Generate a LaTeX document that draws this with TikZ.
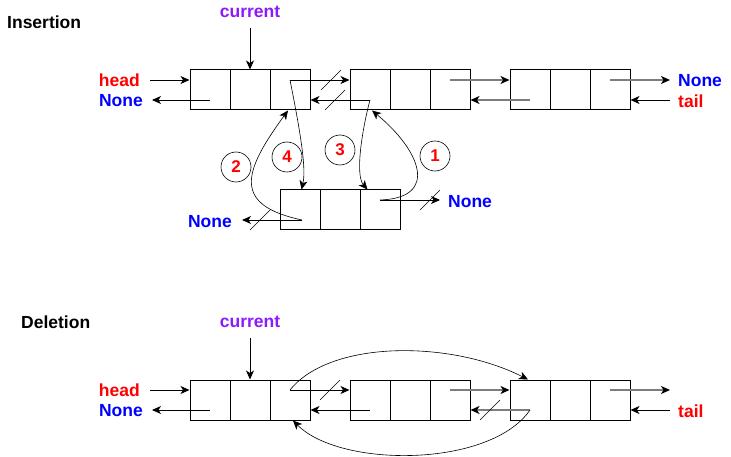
\documentclass[tikz,border=0pt]{standalone}
\usepackage{fontspec}
\setmainfont{Liberation Sans}
\usetikzlibrary{arrows.meta,calc}
\definecolor{ptrred}{RGB}{255,0,0}
\definecolor{ptrblue}{RGB}{0,0,255}
\definecolor{curviolet}{RGB}{140,26,255}
\definecolor{linkgray}{RGB}{125,125,125}

% named points inside a three-cell list node
\newcommand\cellpts[1]{%
  \coordinate (#1-nx)  at ($(#1.center)+(40,-10)$);
  \coordinate (#1-pv)  at ($(#1.center)+(-40,10)$);
  \coordinate (#1-in)  at ($(#1.west)+(0,-10)$);
  \coordinate (#1-out) at ($(#1.east)+(0,10)$);}

\begin{document}
\begin{tikzpicture}[x=1pt,y=-1pt,
  >={Stealth[length=9pt,width=8pt,inset=2.5pt]},
  ptr/.style={->, line width=0.9pt},
  gptr/.style={-{Stealth[length=9pt,width=8pt,inset=2.5pt,black]}, line width=1.5pt, draw=linkgray},
  link/.style={->, line width=0.6pt},
  cut/.style={line width=0.6pt},
  lbl/.style={font=\fontsize{17.5}{20}\selectfont\bfseries, inner sep=0pt},
  stepnum/.style={draw, circle, minimum size=30pt, inner sep=0pt, line width=0.6pt,
    text=ptrred, font=\fontsize{17}{20}\selectfont\bfseries},
  listnode/.style={draw, line width=1pt, minimum width=120pt, minimum height=40pt,
    inner sep=0pt, path picture={
      \foreach \f in {1,2}{
        \draw[line width=1pt]
          ($(path picture bounding box.north west)!\f/3!(path picture bounding box.north east)$) --
          ($(path picture bounding box.south west)!\f/3!(path picture bounding box.south east)$);}}}
]
\useasboundingbox (0,0) rectangle (731,457);

% ---------------- Insertion ----------------
\node[lbl, anchor=west] (ins) at (7,22) {Insertion};

\node[listnode] (A1) at (250,90) {};
\node[listnode] (B1) at (410,90) {};
\node[listnode] (C1) at (570,90) {};
\node[listnode] (D1) at (340,210) {};
\cellpts{A1}\cellpts{B1}\cellpts{C1}\cellpts{D1}

\node[lbl, text=curviolet] (cur1) at (250,12) {current};
\draw[ptr] (cur1.south) ++(0,10) coordinate (cur1s) -- (A1.north);

\node[lbl, text=ptrred, anchor=east] (hd1) at (140,80) {head};
\node[lbl, text=ptrblue, anchor=east] (nl1) at (143,101) {None};
\node[lbl, text=ptrblue, anchor=west] (nr1) at (678,81) {None};
\node[lbl, text=ptrred, anchor=west] (tl1) at (678,101) {tail};
\node[lbl, text=ptrblue, anchor=east] (nd1) at (232,222) {None};
\node[lbl, text=ptrblue, anchor=west] (ne1) at (448,202) {None};

\draw[ptr] ([xshift=10pt]hd1.east) -- (A1.west |- hd1.east);
\draw[ptr] (A1-pv) -- ([xshift=9pt]nl1.east |- A1-pv);
\draw[ptr] (A1-nx) -- (B1-in);
\draw[ptr] (B1-pv) -- (A1-out);
\draw[gptr] (B1-nx) -- (C1-in);
\draw[gptr] (C1-pv) -- (B1-out);
\draw[gptr] (C1-nx) -- ([xshift=-8pt]nr1.west |- C1-nx);
\draw[ptr] ([xshift=-8pt]tl1.west |- C1-out) -- (C1-out);

% cut links
\draw[cut] (321,90) -- (341,70);
\draw[cut] (325,110) -- (345,90);

% new node pointers
\coordinate (D1-pvs) at ($(D1.center)+(-38,10)$);
\coordinate (D1-nxs) at ($(D1.center)+(40,-10)$);
\draw[ptr] (D1-pvs) -- ([xshift=10pt]nd1.east |- D1-pvs);
\draw[ptr] (D1-nxs) -- ([xshift=-8pt]ne1.west |- D1-nxs);
\draw[cut] (250,230) -- (270,210);
\draw[cut] (420,210) -- (440,190);

% relinking steps
\coordinate (A1-bot) at ($(A1.south)+(38,0)$);
\coordinate (B1-bot) at ($(B1.south)+(-38,0)$);
\coordinate (D1-topl) at ($(D1.north west)+(22,0)$);
\coordinate (D1-topr) at ($(D1.north west)+(88,0)$);
\draw[link] (D1-nxs) .. controls (440,198) and (420,150) .. (B1-bot);
\draw[link] (D1-pvs) .. controls (232,205) and (243,172) .. (A1-bot);
\draw[link] (B1-pv) .. controls (362,130) and (355,175) .. (D1-topr);
\draw[link] (A1-nx) .. controls (302,140) and (306,170) .. (D1-topl);

\node[stepnum] (s1) at (435,156) {1};
\node[stepnum] (s2) at (236,167) {2};
\node[stepnum] (s3) at (340,150) {3};
\node[stepnum] (s4) at (287,157) {4};

% ---------------- Deletion ----------------
\node[lbl, anchor=west] (del) at (21,322) {Deletion};

\node[listnode] (A2) at (250,400) {};
\node[listnode] (B2) at (410,400) {};
\node[listnode] (C2) at (570,400) {};
\cellpts{A2}\cellpts{B2}\cellpts{C2}

\node[lbl, text=curviolet] (cur2) at (250,322) {current};
\draw[ptr] (cur2.south) ++(0,10) coordinate (cur2s) -- (A2.north);

\node[lbl, text=ptrred, anchor=east] (hd2) at (140,390) {head};
\node[lbl, text=ptrblue, anchor=east] (nl2) at (143,411) {None};
\node[lbl, text=ptrred, anchor=west] (tl2) at (678,411) {tail};
\coordinate (ne2) at (670,390);

\draw[ptr] ([xshift=10pt]hd2.east) -- (A2.west |- hd2.east);
\draw[ptr] (A2-pv) -- ([xshift=9pt]nl2.east |- A2-pv);
\draw[ptr] (A2-nx) -- (B2-in);
\draw[ptr] (B2-pv) -- (A2-out);
\draw[gptr] (B2-nx) -- (C2-in);
\draw[gptr] (C2-pv) -- (B2-out);
\draw[gptr] (C2-nx) -- (ne2);
\draw[ptr] ([xshift=-8pt]tl2.west |- C2-out) -- (C2-out);

\draw[cut] (320,400) -- (340,380);
\draw[cut] (480,420) -- (500,400);

% bypass links around the removed node
\coordinate (A2-bot) at ($(A2.south)+(43,0)$);
\coordinate (C2-top) at ($(C2.north)+(-42,0)$);
\draw[link] (A2-nx) .. controls (330,340) and (450,340) .. (C2-top);
\draw[link] (C2-pv) .. controls (490,468) and (340,468) .. (A2-bot);
\end{tikzpicture}
\end{document}
